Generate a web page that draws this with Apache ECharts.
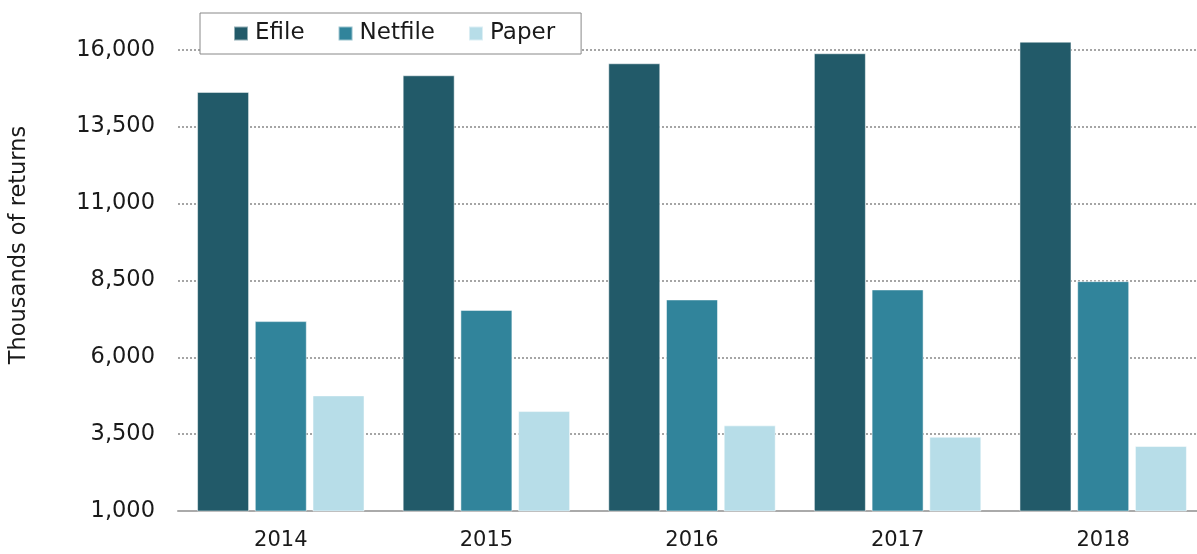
<!DOCTYPE html>
<html>
<head>
<meta charset="utf-8">
<script src="https://cdn.jsdelivr.net/npm/echarts@6/dist/echarts.min.js"></script>
<style>
  html, body { margin: 0; padding: 0; background: #fff; }
  #chart { width: 1197px; height: 554px; }
</style>
</head>
<body>
<div id="chart"></div>
<script>
const years = ['2014', '2015', '2016', '2017', '2018'];
const efile = [14630, 15170, 15560, 15886, 16263];
const netfile = [7175, 7540, 7880, 8205, 8475];
const paper = [4760, 4250, 3785, 3415, 3112];
const yTicks = [1000, 3500, 6000, 8500, 11000, 13500, 16000];

const font = '"DejaVu Sans", sans-serif';
const chart = echarts.init(document.getElementById('chart'));

const barStyle = (color) => ({
  color: color,
  borderColor: 'rgba(255,255,255,0.5)',
  borderWidth: 1
});

chart.setOption({
  animation: false,
  textStyle: { fontFamily: font },
  grid: { left: 178, top: 19, width: 1028, bottom: 43, outerBoundsMode: 'none' },
  legend: {
    left: 200,
    top: 13,
    padding: [9, 26, 9, 33],
    itemWidth: 14,
    itemHeight: 14,
    itemGap: 33,
    backgroundColor: '#fff',
    borderColor: '#888',
    borderWidth: 1,
    icon: 'rect',
    textStyle: { fontSize: 23, color: '#1a1a1a', fontFamily: font, padding: [0, 0, 0, 2] },
    data: ['Efile', 'Netfile', 'Paper']
  },
  xAxis: {
    type: 'category',
    data: years,
    axisTick: { show: false },
    axisLine: { lineStyle: { color: '#aaa', width: 2 } },
    axisLabel: { fontSize: 21, color: '#1a1a1a', margin: 19 }
  },
  yAxis: {
    type: 'value',
    min: 1000,
    max: 17000,
    interval: 2500,
    name: 'Thousands of returns',
    nameLocation: 'middle',
    nameGap: 147,
    nameTextStyle: { fontSize: 22.5, color: '#1a1a1a', padding: [0, 0, 0, 40] },
    axisLine: { show: false },
    axisTick: { show: false },
    axisLabel: {
      fontSize: 22.5,
      color: '#1a1a1a',
      margin: 23,
      formatter: (v) => yTicks.includes(v) ? v.toLocaleString('en-US') : ''
    },
    splitLine: {
      showMaxLine: false,
      lineStyle: { color: '#888', type: [2, 2], width: 1.5 }
    }
  },
  series: [
    { name: 'Efile', type: 'bar', data: efile, barWidth: 52, barGap: '11%', barCategoryGap: '18%', itemStyle: barStyle('#225a69') },
    { name: 'Netfile', type: 'bar', data: netfile, barWidth: 52, itemStyle: barStyle('#31849b') },
    { name: 'Paper', type: 'bar', data: paper, barWidth: 52, itemStyle: barStyle('#b7dde8') }
  ]
});
</script>
</body>
</html>
